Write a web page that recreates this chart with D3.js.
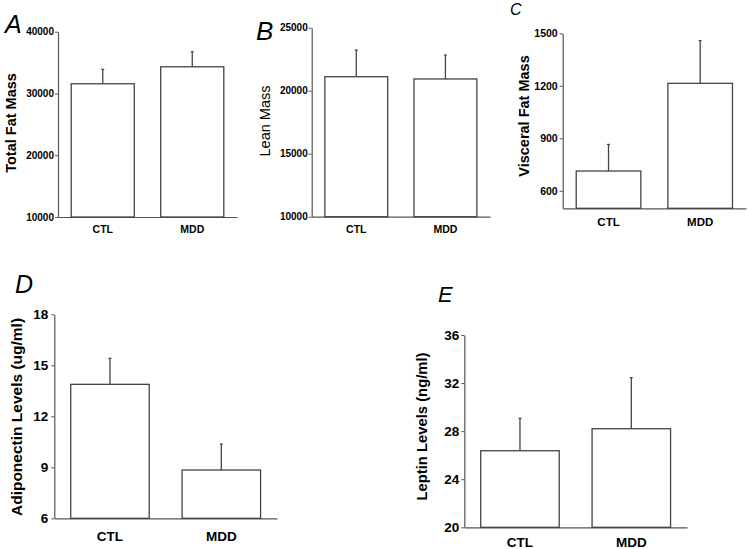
<!DOCTYPE html>
<html>
<head>
<meta charset="utf-8">
<script src="https://cdn.jsdelivr.net/npm/d3@7"></script>
<style>
  html, body { margin: 0; padding: 0; background: #fff; }
  svg { display: block; font-family: "Liberation Sans", Arial, sans-serif; }
</style>
</head>
<body>
<svg id="chart" width="750" height="549"></svg>
<script>
// ---- data ----
const categories = ["CTL", "MDD"];

const totalFatMean = [31570, 34320];
const totalFatErr  = [2330, 2430];
const totalFatTicks = [10000, 20000, 30000, 40000];

const leanMassMean = [21110, 20930];
const leanMassErr  = [2120, 1900];
const leanMassTicks = [10000, 15000, 20000, 25000];

const visceralMean = [713, 1214];
const visceralErr  = [152, 244];
const visceralTicks = [600, 900, 1200, 1500];

const adipoMean = [13.88, 8.84];
const adipoErr  = [1.53, 1.53];
const adipoTicks = [6, 9, 12, 15, 18];

const leptinMean = [26.37, 28.2];
const leptinErr  = [2.7, 4.25];
const leptinTicks = [20, 24, 28, 32, 36];

// ---- layout ----
const panels = [
  { letter: "A", lx: 5, ly: 33, lsize: 25,
    label: "Total Fat Mass", labelBold: true, labelSize: 14.5, labX: 11, labY: 123,
    domain: [10000, 40000], ticks: totalFatTicks, mean: totalFatMean, err: totalFatErr,
    ax: 58, ax1: 237, yTop: 31.7, yBot: 217, tickSize: 10, tickPad: 1, catSize: 10.5, catY: 233 },
  { letter: "B", lx: 256, ly: 40, lsize: 26,
    label: "Lean Mass", labelBold: false, labelSize: 14.5, labX: 265, labY: 121,
    domain: [10000, 25000], ticks: leanMassTicks, mean: leanMassMean, err: leanMassErr,
    ax: 311.7, ax1: 490, yTop: 27.7, yBot: 216.7, tickSize: 10, tickPad: 1, catSize: 10.5, catY: 233 },
  { letter: "C", lx: 510, ly: 15, lsize: 16,
    label: "Visceral Fat Mass", labelBold: true, labelSize: 14.5, labX: 524, labY: 116,
    domain: [500, 1500], ticks: visceralTicks, mean: visceralMean, err: visceralErr,
    ax: 562.7, ax1: 746, yTop: 33.3, yBot: 208.3, tickSize: 10.5, tickPad: 2, catSize: 11.5, catY: 226 },
  { letter: "D", lx: 15, ly: 292.7, lsize: 25,
    label: "Adiponectin Levels (ug/ml)", labelBold: true, labelSize: 15.5, labX: 17, labY: 417,
    domain: [6, 18], ticks: adipoTicks, mean: adipoMean, err: adipoErr,
    ax: 54.3, ax1: 277, yTop: 314.3, yBot: 518.3, tickSize: 13.5, tickPad: 3, catSize: 13.5, catY: 541 },
  { letter: "E", lx: 438, ly: 302, lsize: 22,
    label: "Leptin Levels (ng/ml)", labelBold: true, labelSize: 14.8, labX: 422, labY: 426.5,
    domain: [20, 36], ticks: leptinTicks, mean: leptinMean, err: leptinErr,
    ax: 464.3, ax1: 687, yTop: 335, yBot: 527.3, tickSize: 13.5, tickPad: 2, catSize: 13.5, catY: 547 }
];

const svg = d3.select("#chart");
const axisColor = "#555";
const barColor = "#444";

panels.forEach(p => {
  const g = svg.append("g");
  const y = d3.scaleLinear().domain(p.domain).range([p.yBot, p.yTop]);
  const x = d3.scaleBand().domain(categories).range([p.ax, p.ax1])
    .paddingInner(0.295).paddingOuter(0.1475);

  // y axis
  const yAxis = d3.axisLeft(y).tickValues(p.ticks).tickSize(3).tickSizeOuter(0)
    .tickPadding(p.tickPad).tickFormat(d3.format("d"));
  const ya = g.append("g").attr("transform", `translate(${p.ax},0)`).call(yAxis);
  ya.select(".domain").attr("stroke", axisColor).attr("stroke-width", 1.2);
  ya.selectAll(".tick line").attr("stroke", axisColor).attr("stroke-width", 1);
  ya.selectAll(".tick text").attr("fill", "#000").attr("font-weight", "bold")
    .attr("font-size", p.tickSize).attr("font-family", "'Liberation Sans', Arial, sans-serif");

  // x axis
  const xAxis = d3.axisBottom(x).tickSize(0).tickSizeOuter(0).tickPadding(0);
  const xa = g.append("g").attr("transform", `translate(0,${p.yBot})`).call(xAxis);
  xa.select(".domain").attr("stroke", axisColor).attr("stroke-width", 1.2);
  xa.selectAll(".tick text").attr("fill", "#000").attr("font-weight", "bold")
    .attr("font-size", p.catSize).attr("dy", null)
    .attr("y", p.catY - p.yBot)
    .attr("font-family", "'Liberation Sans', Arial, sans-serif");

  // error bars
  g.selectAll(".err").data(categories).enter().append("line")
    .attr("x1", d => x(d) + x.bandwidth() / 2)
    .attr("x2", d => x(d) + x.bandwidth() / 2)
    .attr("y1", (d, i) => y(p.mean[i]))
    .attr("y2", (d, i) => y(p.mean[i] + p.err[i]))
    .attr("stroke", barColor).attr("stroke-width", 1.3);
  g.selectAll(".cap").data(categories).enter().append("line")
    .attr("x1", d => x(d) + x.bandwidth() / 2 - 1.5)
    .attr("x2", d => x(d) + x.bandwidth() / 2 + 1.5)
    .attr("y1", (d, i) => y(p.mean[i] + p.err[i]))
    .attr("y2", (d, i) => y(p.mean[i] + p.err[i]))
    .attr("stroke", barColor).attr("stroke-width", 1.2);

  // bars
  g.selectAll(".bar").data(categories).enter().append("rect")
    .attr("x", d => x(d))
    .attr("width", x.bandwidth())
    .attr("y", (d, i) => y(p.mean[i]))
    .attr("height", (d, i) => p.yBot - y(p.mean[i]))
    .attr("fill", "#fff").attr("stroke", barColor).attr("stroke-width", 1.3);

  // y label
  g.append("text")
    .attr("transform", `translate(${p.labX},${p.labY}) rotate(-90)`)
    .attr("text-anchor", "middle").attr("dy", "0.35em")
    .attr("font-size", p.labelSize)
    .attr("font-weight", p.labelBold ? "bold" : "normal")
    .attr("fill", "#000")
    .text(p.label);

  // panel letter
  g.append("text")
    .attr("x", p.lx).attr("y", p.ly)
    .attr("font-size", p.lsize).attr("font-style", "italic")
    .attr("fill", "#000")
    .text(p.letter);
});
</script>
</body>
</html>
